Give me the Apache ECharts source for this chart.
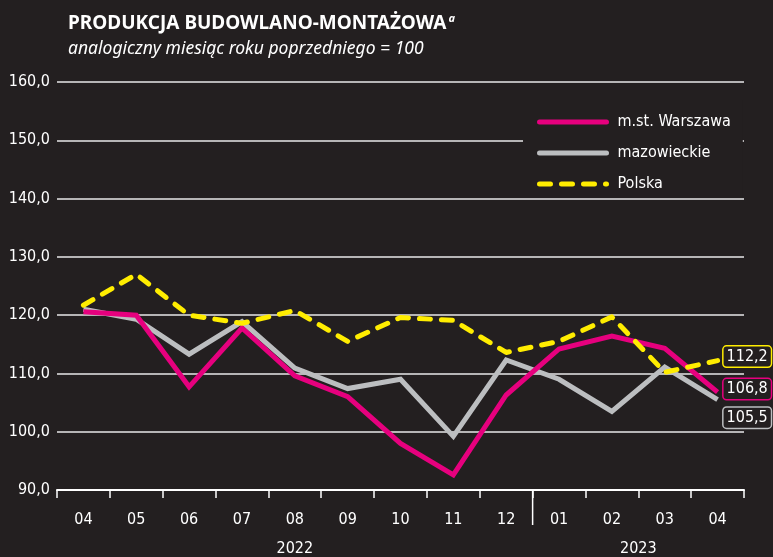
<!DOCTYPE html>
<html lang="pl">
<head>
    <meta charset="UTF-8">
    <title>Produkcja budowlano-montażowa</title>
    <script src="https://cdn.jsdelivr.net/npm/echarts@6/dist/echarts.min.js"></script>
    <style>
        html, body { margin: 0; padding: 0; background: #231f20; }
    </style>
</head>
<body>
    <div id="main" style="width: 773px;height:557px;"></div>
    <script type="text/javascript">
        // dane
        var months = ['04', '05', '06', '07', '08', '09', '10', '11', '12', '01', '02', '03', '04'];
        var years = [
            { label: '2022', from: 0, to: 8 },
            { label: '2023', from: 9, to: 12 }
        ];
        var warszawa = [120.6, 120.0, 107.7, 117.8, 109.6, 106.0, 98.0, 92.6, 106.3, 114.2, 116.4, 114.3, 106.8];
        var mazowieckie = [121.0, 119.3, 113.3, 118.9, 110.9, 107.4, 109.0, 99.2, 112.3, 109.0, 103.5, 111.1, 105.5];
        var polska = [121.7, 127.0, 120.0, 118.6, 120.8, 115.5, 119.6, 119.1, 113.6, 115.5, 119.7, 110.2, 112.2];

        var BG = '#231f20';
        var FONT = "'Liberation Sans Narrow', 'DejaVu Sans Condensed', sans-serif";

        function fmt(v) {
            return v.toFixed(1).replace('.', ',');
        }

        function endLabel(color, dy) {
            return {
                show: true,
                formatter: function (p) { return fmt(p.value); },
                color: '#fff',
                fontFamily: FONT,
                fontSize: 16,
                backgroundColor: BG,
                borderColor: color,
                borderWidth: 1.5,
                borderRadius: 3,
                padding: [3, 3, 1, 3],
                distance: 6,
                offset: [0, dy]
            };
        }

        var myChart = echarts.init(document.getElementById('main'));

        myChart.setOption({
            backgroundColor: BG,
            animation: false,
            title: {
                left: 63,
                top: 8,
                itemGap: 7,
                text: '{b|PRODUKCJA BUDOWLANO-MONTAŻOWA}{s|a}',
                textStyle: {
                    rich: {
                        b: { color: '#fff', fontSize: 19, fontWeight: 'bold', fontFamily: "'Noto Sans', sans-serif" },
                        s: { color: '#fff', fontSize: 11, fontStyle: 'italic', fontFamily: "'Noto Sans', sans-serif", verticalAlign: 'top', padding: [0, 0, 10, 2] }
                    }
                },
                subtext: 'analogiczny miesiąc roku poprzedniego = 100',
                subtextStyle: { color: '#fff', fontSize: 17.5, fontStyle: 'italic', fontFamily: "'Noto Sans', sans-serif" }
            },
            legend: {
                orient: 'vertical',
                left: 523,
                top: 100,
                padding: [14, 12, 6, 14],
                backgroundColor: BG,
                itemWidth: 67,
                itemHeight: 14,
                itemGap: 15,
                data: ['m.st. Warszawa', 'mazowieckie', 'Polska'],
                itemStyle: { opacity: 0 },
                lineStyle: { width: 5, cap: 'round' },
                textStyle: { color: '#fff', fontSize: 16, fontFamily: FONT, padding: [0, 0, 0, 6] }
            },
            grid: { left: 57, right: 29, top: 82, bottom: 67 },
            xAxis: {
                type: 'category',
                data: months,
                boundaryGap: true,
                axisLine: { lineStyle: { color: '#fff', width: 2 } },
                axisTick: { show: true, length: 8, lineStyle: { color: '#fff', width: 1.5 } },
                axisLabel: { color: '#fff', fontSize: 16, fontFamily: FONT, margin: 22 },
                splitLine: { show: false }
            },
            yAxis: {
                type: 'value',
                min: 90,
                max: 160,
                interval: 10,
                axisLine: { show: false },
                axisTick: { show: false },
                axisLabel: { color: '#fff', fontSize: 16, fontFamily: FONT, margin: 7, formatter: fmt },
                splitLine: { lineStyle: { color: '#e8e8e8', width: 1.5 } }
            },
            series: [
                {
                    name: 'mazowieckie', type: 'line', data: mazowieckie, symbol: 'none', z: 2,
                    lineStyle: { color: '#bcbec0', width: 5, join: 'miter' },
                    itemStyle: { color: '#bcbec0' },
                    endLabel: endLabel('#bcbec0', 18)
                },
                {
                    name: 'm.st. Warszawa', type: 'line', data: warszawa, symbol: 'none', z: 3,
                    lineStyle: { color: '#e6007e', width: 5, join: 'miter' },
                    itemStyle: { color: '#e6007e' },
                    endLabel: endLabel('#e6007e', -3)
                },
                {
                    name: 'Polska', type: 'line', data: polska, symbol: 'none', z: 4,
                    lineStyle: { color: '#ffed00', width: 5, type: [11, 11], cap: 'round', join: 'round' },
                    itemStyle: { color: '#ffed00' },
                    endLabel: endLabel('#ffed00', -4)
                }
            ]
        });

        // etykiety lat i kreska oddzielająca lata
        var gridRect = myChart.getModel().getComponent('grid').coordinateSystem.getRect();
        var bottomY = gridRect.y + gridRect.height;
        var graphics = [];
        years.forEach(function (yr) {
            var x0 = myChart.convertToPixel({ xAxisIndex: 0 }, yr.from);
            var x1 = myChart.convertToPixel({ xAxisIndex: 0 }, yr.to);
            graphics.push({
                type: 'text',
                x: (x0 + x1) / 2,
                y: bottomY + 59,
                style: { text: yr.label, fill: '#fff', font: '16px ' + FONT, align: 'center', verticalAlign: 'middle' }
            });
        });
        var sepX = (myChart.convertToPixel({ xAxisIndex: 0 }, 8) + myChart.convertToPixel({ xAxisIndex: 0 }, 9)) / 2;
        graphics.push({
            type: 'line',
            shape: { x1: sepX, y1: bottomY, x2: sepX, y2: bottomY + 35 },
            style: { stroke: '#fff', lineWidth: 1.5 }
        });
        myChart.setOption({ graphic: graphics });
    </script>
</body>
</html>
